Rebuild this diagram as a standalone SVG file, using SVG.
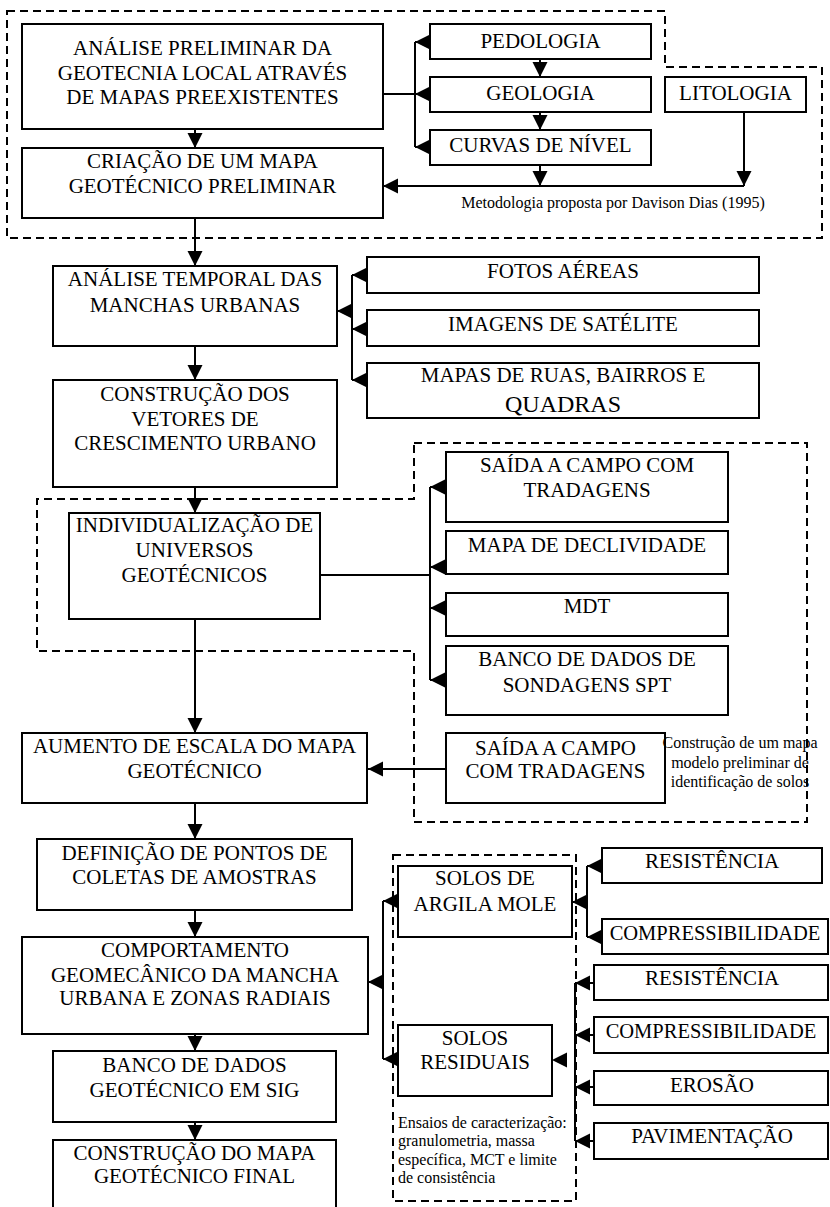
<svg xmlns="http://www.w3.org/2000/svg" width="830" height="1207" viewBox="0 0 830 1207">
  <style>
    .box { fill: #fff; stroke: #000; stroke-width: 2; }
    .t { font-family: "Liberation Serif", "Times New Roman", serif; font-size: 21px; fill: #000; text-anchor: middle; }
    .t24 { font-size: 24px; }
    .t20 { font-size: 20.5px; }
    .note { font-family: "Liberation Serif", "Times New Roman", serif; font-size: 16px; fill: #000; }
    .mid { text-anchor: middle; }
    .ln { fill: none; stroke: #000; stroke-width: 2; }
    .arr { fill: none; stroke: #000; stroke-width: 2; marker-end: url(#head); }
    .dash { fill: none; stroke: #000; stroke-width: 2; stroke-dasharray: 8 5; }
  </style>
  <defs>
    <marker id="head" markerUnits="userSpaceOnUse" markerWidth="16" markerHeight="16" refX="15" refY="7.5" orient="auto">
      <path d="M0,0 L15,7.5 L0,15 Z" fill="#000"/>
    </marker>
  </defs>

  <rect width="830" height="1207" fill="#fff"/>

  <!-- dashed groupings -->
  <g id="groups">
    <path class="dash" d="M7,11 H665 V67 H822 V238 H7 Z"/>
    <path class="dash" d="M414,443 H807 V822 H414 V651 H37 V499 H414 Z"/>
    <path class="dash" d="M393,855 H576 V1201 H393 Z"/>
  </g>

  <!-- connectors -->
  <g id="connectors">
    <path class="arr" d="M195,129 V148"/>
    <path class="ln" d="M383,94 H415 M415,42 V147"/>
    <path class="arr" d="M430,42 H415"/>
    <path class="arr" d="M430,94 H415"/>
    <path class="arr" d="M430,147 H415"/>
    <path class="arr" d="M540,59 V77"/>
    <path class="arr" d="M540,112 V130"/>
    <path class="arr" d="M540,165 V186"/>
    <path class="arr" d="M744,112 V186"/>
    <path class="arr" d="M744,186 H383"/>
    <path class="arr" d="M195,218 V266"/>

    <path class="ln" d="M352,275 V380"/>
    <path class="arr" d="M352,311 H337"/>
    <path class="arr" d="M367,275 H352"/>
    <path class="arr" d="M367,329 H352"/>
    <path class="arr" d="M367,380 H352"/>
    <path class="arr" d="M195,346 V380"/>
    <path class="arr" d="M195,487 V513"/>

    <path class="ln" d="M320,575 H430 M430,487 V680"/>
    <path class="arr" d="M446,487 H430"/>
    <path class="arr" d="M446,567 H430"/>
    <path class="arr" d="M446,608 H430"/>
    <path class="arr" d="M446,680 H430"/>
    <path class="arr" d="M195,619 V733"/>
    <path class="arr" d="M446,769 H368"/>

    <path class="arr" d="M195,803 V839"/>
    <path class="arr" d="M195,910 V937"/>
    <path class="arr" d="M195,1034 V1051"/>
    <path class="arr" d="M195,1122 V1140"/>

    <path class="ln" d="M383,901 V1059"/>
    <path class="arr" d="M383,982 H368"/>
    <path class="arr" d="M398,901 H383"/>
    <path class="arr" d="M398,1059 H383"/>

    <path class="ln" d="M587,866 V937"/>
    <path class="arr" d="M587,902 H572"/>
    <path class="arr" d="M602,866 H587"/>
    <path class="arr" d="M602,937 H587"/>

    <path class="ln" d="M575,983 V1141"/>
    <path class="arr" d="M594,983 H575"/>
    <path class="arr" d="M594,1035 H575"/>
    <path class="arr" d="M594,1087 H575"/>
    <path class="arr" d="M594,1141 H575"/>
    <polygon points="552,1060 567,1052.5 567,1067.5" fill="#000"/>
  </g>

  <!-- nodes -->
  <g id="n-analise-preliminar">
    <rect class="box" x="22" y="24" width="361" height="105"/>
    <text class="t" x="202.5" y="55">ANÁLISE PRELIMINAR DA</text>
    <text class="t" x="202.5" y="80">GEOTECNIA LOCAL ATRAVÉS</text>
    <text class="t" x="202.5" y="104">DE MAPAS PREEXISTENTES</text>
  </g>
  <g id="n-mapa-preliminar">
    <rect class="box" x="22" y="148" width="361" height="70"/>
    <text class="t" x="202.5" y="168">CRIAÇÃO DE UM MAPA</text>
    <text class="t" x="202.5" y="193">GEOTÉCNICO PRELIMINAR</text>
  </g>
  <g id="n-pedologia">
    <rect class="box" x="430" y="24" width="221" height="35"/>
    <text class="t" x="540.5" y="48">PEDOLOGIA</text>
  </g>
  <g id="n-geologia">
    <rect class="box" x="430" y="77" width="221" height="35"/>
    <text class="t" x="540.5" y="100">GEOLOGIA</text>
  </g>
  <g id="n-curvas">
    <rect class="box" x="430" y="130" width="221" height="35"/>
    <text class="t" x="540.5" y="152">CURVAS DE NÍVEL</text>
  </g>
  <g id="n-litologia">
    <rect class="box" x="665" y="77" width="141" height="35"/>
    <text class="t" x="735.5" y="100">LITOLOGIA</text>
  </g>
  <g id="n-nota-metodologia">
    <text class="note mid" x="613" y="208">Metodologia proposta por Davison Dias (1995)</text>
  </g>

  <g id="n-analise-temporal">
    <rect class="box" x="53" y="266" width="284" height="80"/>
    <text class="t" x="195" y="286">ANÁLISE TEMPORAL DAS</text>
    <text class="t" x="195" y="312">MANCHAS URBANAS</text>
  </g>
  <g id="n-fotos">
    <rect class="box" x="367" y="257" width="392" height="36"/>
    <text class="t" x="563" y="278">FOTOS AÉREAS</text>
  </g>
  <g id="n-imagens">
    <rect class="box" x="367" y="310" width="392" height="36"/>
    <text class="t" x="563" y="331">IMAGENS DE SATÉLITE</text>
  </g>
  <g id="n-mapas-ruas">
    <rect class="box" x="367" y="363" width="392" height="55"/>
    <text class="t" x="563" y="382">MAPAS DE RUAS, BAIRROS E</text>
    <text class="t t24" x="563" y="412">QUADRAS</text>
  </g>
  <g id="n-vetores">
    <rect class="box" x="53" y="380" width="284" height="107"/>
    <text class="t" x="195" y="401">CONSTRUÇÃO DOS</text>
    <text class="t" x="195" y="426">VETORES DE</text>
    <text class="t" x="195" y="450">CRESCIMENTO URBANO</text>
  </g>

  <g id="n-individualizacao">
    <rect class="box" x="69" y="513" width="251" height="106"/>
    <text class="t" x="194.5" y="532">INDIVIDUALIZAÇÃO DE</text>
    <text class="t" x="194.5" y="557">UNIVERSOS</text>
    <text class="t" x="194.5" y="582">GEOTÉCNICOS</text>
  </g>
  <g id="n-saida-1">
    <rect class="box" x="446" y="452" width="282" height="70"/>
    <text class="t" x="587" y="472">SAÍDA A CAMPO COM</text>
    <text class="t" x="587" y="497">TRADAGENS</text>
  </g>
  <g id="n-declividade">
    <rect class="box" x="446" y="531" width="282" height="43"/>
    <text class="t" x="587" y="552">MAPA DE DECLIVIDADE</text>
  </g>
  <g id="n-mdt">
    <rect class="box" x="446" y="593" width="282" height="43"/>
    <text class="t" x="587" y="613">MDT</text>
  </g>
  <g id="n-spt">
    <rect class="box" x="446" y="646" width="282" height="69"/>
    <text class="t" x="587" y="666">BANCO DE DADOS DE</text>
    <text class="t" x="587" y="692">SONDAGENS SPT</text>
  </g>
  <g id="n-saida-2">
    <rect class="box" x="446" y="733" width="219" height="70"/>
    <text class="t" x="555.5" y="755">SAÍDA A CAMPO</text>
    <text class="t" x="555.5" y="778">COM TRADAGENS</text>
  </g>
  <g id="n-nota-modelo">
    <text class="note mid" x="740" y="748">Construção de um mapa</text>
    <text class="note mid" x="740" y="768">modelo preliminar de</text>
    <text class="note mid" x="740" y="787">identificação de solos</text>
  </g>
  <g id="n-aumento">
    <rect class="box" x="22" y="733" width="345" height="70"/>
    <text class="t" x="194.5" y="753">AUMENTO DE ESCALA DO MAPA</text>
    <text class="t" x="194.5" y="778">GEOTÉCNICO</text>
  </g>

  <g id="n-definicao">
    <rect class="box" x="37" y="839" width="315" height="71"/>
    <text class="t" x="194.5" y="860">DEFINIÇÃO DE PONTOS DE</text>
    <text class="t" x="194.5" y="884">COLETAS DE AMOSTRAS</text>
  </g>
  <g id="n-comportamento">
    <rect class="box" x="22" y="937" width="346" height="97"/>
    <text class="t" x="195" y="957">COMPORTAMENTO</text>
    <text class="t" x="195" y="982">GEOMECÂNICO DA MANCHA</text>
    <text class="t" x="195" y="1005">URBANA E ZONAS RADIAIS</text>
  </g>
  <g id="n-banco-sig">
    <rect class="box" x="53" y="1051" width="283" height="71"/>
    <text class="t" x="194.5" y="1072">BANCO DE DADOS</text>
    <text class="t" x="194.5" y="1097">GEOTÉCNICO EM SIG</text>
  </g>
  <g id="n-mapa-final">
    <rect class="box" x="53" y="1140" width="283" height="80"/>
    <text class="t" x="194.5" y="1160">CONSTRUÇÃO DO MAPA</text>
    <text class="t" x="194.5" y="1183">GEOTÉCNICO FINAL</text>
  </g>

  <g id="n-argila">
    <rect class="box" x="398" y="866" width="174" height="71"/>
    <text class="t" x="485" y="885">SOLOS DE</text>
    <text class="t" x="485" y="911">ARGILA MOLE</text>
  </g>
  <g id="n-residuais">
    <rect class="box" x="398" y="1025" width="154" height="71"/>
    <text class="t" x="475" y="1045">SOLOS</text>
    <text class="t" x="475" y="1069">RESIDUAIS</text>
  </g>
  <g id="n-nota-ensaios">
    <text class="note" x="398" y="1128">Ensaios de caracterização:</text>
    <text class="note" x="398" y="1146">granulometria, massa</text>
    <text class="note" x="398" y="1165">específica, MCT e limite</text>
    <text class="note" x="398" y="1183">de consistência</text>
  </g>
  <g id="n-resistencia-1">
    <rect class="box" x="602" y="848" width="220" height="35"/>
    <text class="t" x="712" y="868">RESISTÊNCIA</text>
  </g>
  <g id="n-compress-1">
    <rect class="box" x="602" y="919" width="226" height="35"/>
    <text class="t t20" x="715" y="940">COMPRESSIBILIDADE</text>
  </g>
  <g id="n-resistencia-2">
    <rect class="box" x="594" y="965" width="234" height="35"/>
    <text class="t" x="712" y="985">RESISTÊNCIA</text>
  </g>
  <g id="n-compress-2">
    <rect class="box" x="594" y="1017" width="234" height="36"/>
    <text class="t t20" x="711" y="1038">COMPRESSIBILIDADE</text>
  </g>
  <g id="n-erosao">
    <rect class="box" x="594" y="1071" width="234" height="34"/>
    <text class="t" x="712" y="1092">EROSÃO</text>
  </g>
  <g id="n-pavimentacao">
    <rect class="box" x="594" y="1123" width="234" height="36"/>
    <text class="t" x="712" y="1143">PAVIMENTAÇÃO</text>
  </g>
</svg>
